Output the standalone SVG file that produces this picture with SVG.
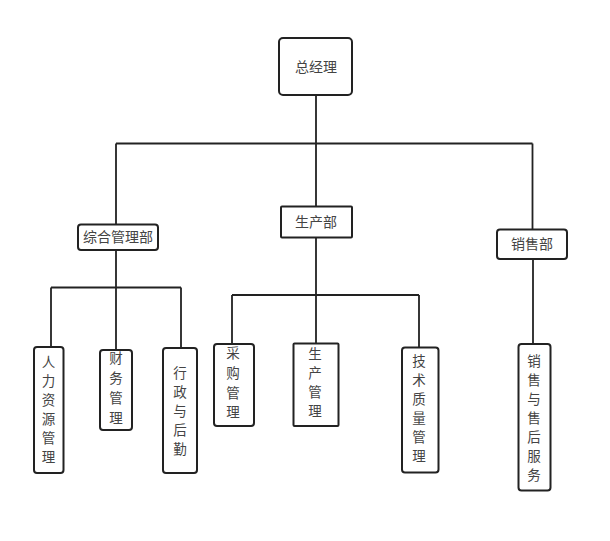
<svg xmlns="http://www.w3.org/2000/svg" width="610" height="541" viewBox="0 0 610 541">
<style>
.box{fill:#fff;stroke:#222;stroke-width:2}
.ln{fill:none;stroke:#222;stroke-width:1.8}
text{font-family:"Noto Sans CJK SC","Noto Sans",sans-serif;font-size:14px;fill:#444;text-anchor:middle}
.v{font-size:13.5px}
</style>
<rect width="610" height="541" fill="#fff"/>
<g id="connectors">
<path class="ln" d="M316,95V206 M116,143.5H532.5 M116,143.5V224.5 M532.5,143.5V229"/>
<path class="ln" d="M116,250V287.5 M51,287.5H181 M51,287.5V347 M116,287.5V350 M181,287.5V348"/>
<path class="ln" d="M316,238V295 M232,295H419 M232,295V344 M316,295V343 M419,295V347"/>
<path class="ln" d="M533,259V344"/>
</g>
<g id="n0"><rect class="box" x="279" y="38" width="73" height="57" rx="4"/><text x="316" y="72">总经理</text></g>
<g id="n1"><rect class="box" x="78" y="224.5" width="80" height="25.5" rx="3"/><text x="118" y="242">综合管理部</text></g>
<g id="n2"><rect class="box" x="281" y="206.5" width="71" height="31" rx="1"/><text x="316" y="227">生产部</text></g>
<g id="n3"><rect class="box" x="497" y="229.5" width="70" height="29.5" rx="3"/><text x="532" y="249">销售部</text></g>
<g id="n4"><rect class="box" x="34" y="347" width="29.5" height="126" rx="3"/>
<text class="v" x="48.5"><tspan x="48.5" y="367">人</tspan><tspan x="48.5" y="386">力</tspan><tspan x="48.5" y="405">资</tspan><tspan x="48.5" y="424">源</tspan><tspan x="48.5" y="443">管</tspan><tspan x="48.5" y="462">理</tspan></text></g>
<g id="n5"><rect class="box" x="100" y="350" width="32" height="80" rx="3"/>
<text class="v" x="116"><tspan x="116" y="363">财</tspan><tspan x="116" y="383">务</tspan><tspan x="116" y="403">管</tspan><tspan x="116" y="423">理</tspan></text></g>
<g id="n6"><rect class="box" x="163" y="348" width="34" height="125" rx="3"/>
<text class="v" x="180"><tspan x="180" y="378">行</tspan><tspan x="180" y="397">政</tspan><tspan x="180" y="416">与</tspan><tspan x="180" y="435">后</tspan><tspan x="180" y="454">勤</tspan></text></g>
<g id="n7"><rect class="box" x="214" y="344" width="40" height="82" rx="3"/>
<text class="v" x="233"><tspan x="233" y="358">采</tspan><tspan x="233" y="378">购</tspan><tspan x="233" y="398">管</tspan><tspan x="233" y="417">理</tspan></text></g>
<g id="n8"><rect class="box" x="293.5" y="343.5" width="45" height="82.5" rx="1"/>
<text class="v" x="315"><tspan x="315" y="359">生</tspan><tspan x="315" y="378">产</tspan><tspan x="315" y="397">管</tspan><tspan x="315" y="416">理</tspan></text></g>
<g id="n9"><rect class="box" x="402" y="347.5" width="36.5" height="125" rx="3"/>
<text class="v" x="419"><tspan x="419" y="366">技</tspan><tspan x="419" y="385">术</tspan><tspan x="419" y="404">质</tspan><tspan x="419" y="423">量</tspan><tspan x="419" y="442">管</tspan><tspan x="419" y="461">理</tspan></text></g>
<g id="n10"><rect class="box" x="518.5" y="344" width="32" height="146.5" rx="3"/>
<text class="v" x="534"><tspan x="534" y="366">销</tspan><tspan x="534" y="385">售</tspan><tspan x="534" y="404">与</tspan><tspan x="534" y="423">售</tspan><tspan x="534" y="442">后</tspan><tspan x="534" y="461">服</tspan><tspan x="534" y="480">务</tspan></text></g>
</svg>
